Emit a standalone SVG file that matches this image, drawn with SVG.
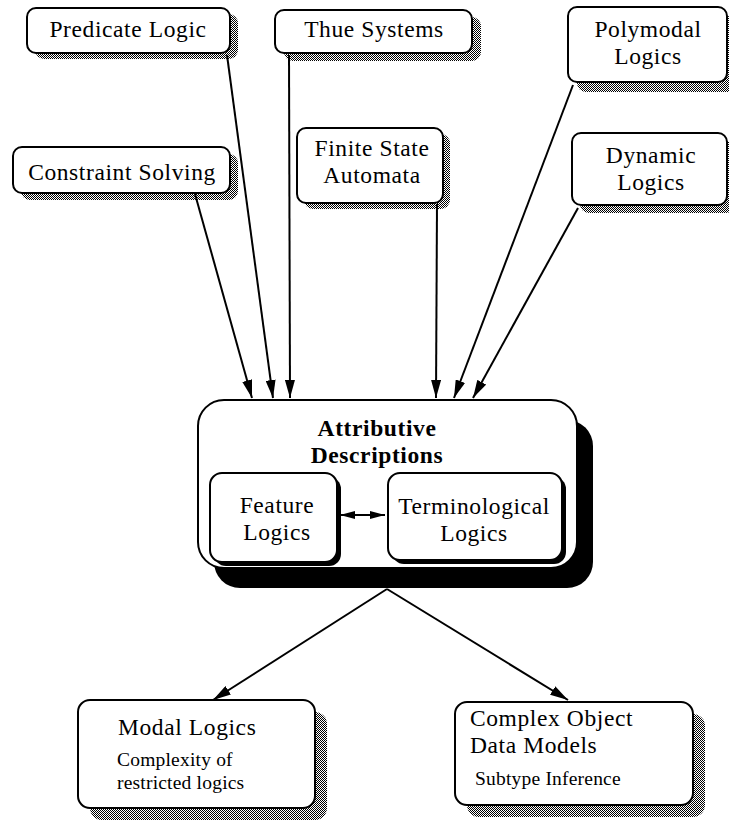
<svg xmlns="http://www.w3.org/2000/svg" width="729" height="822" viewBox="0 0 729 822">
<style>
.box{fill:#fff;stroke:#000;stroke-width:2}
.dsh{fill:url(#dither)}
.ssh{fill:#000}
.t{font-family:"Liberation Serif","Times New Roman",serif;font-size:23.5px;letter-spacing:0.6px;fill:#000;text-anchor:middle}
.b{font-weight:bold}
.s{font-family:"Liberation Serif","Times New Roman",serif;font-size:19.5px;letter-spacing:0.2px;fill:#000}
.l{text-anchor:start}
.c{fill:none;stroke:#000;stroke-width:2}
</style>
<defs>
<pattern id="dither" width="2" height="2" patternUnits="userSpaceOnUse">
<rect x="0" y="0" width="1" height="1" fill="#000"/>
<rect x="1" y="1" width="1" height="1" fill="#000"/>
</pattern>
<marker id="ah" viewBox="0 0 18 10" refX="18" refY="5" markerWidth="18" markerHeight="10" markerUnits="userSpaceOnUse" orient="auto">
<path d="M0,0 L18,5 L0,10 z" fill="#000"/>
</marker>
<marker id="ah2" viewBox="0 0 15 8" refX="15" refY="4" markerWidth="15" markerHeight="8" markerUnits="userSpaceOnUse" orient="auto-start-reverse">
<path d="M0,0 L15,4 L0,8 z" fill="#000"/>
</marker>
</defs>
<rect width="729" height="822" fill="#fff"/>

<g id="connectors">
<line class="c" x1="195" y1="194" x2="252" y2="398" marker-end="url(#ah)"/>
<line class="c" x1="227" y1="55" x2="273" y2="398" marker-end="url(#ah)"/>
<line class="c" x1="289" y1="55" x2="290" y2="398" marker-end="url(#ah)"/>
<line class="c" x1="437" y1="204" x2="436" y2="398" marker-end="url(#ah)"/>
<line class="c" x1="573" y1="85" x2="454" y2="398" marker-end="url(#ah)"/>
<line class="c" x1="578" y1="208" x2="473" y2="398" marker-end="url(#ah)"/>
<line class="c" x1="387" y1="589" x2="213" y2="700" marker-end="url(#ah)"/>
<line class="c" x1="387" y1="589" x2="568" y2="700" marker-end="url(#ah)"/>
</g>

<g id="predicate-logic">
<rect class="dsh" x="35" y="14" width="203" height="45" rx="9"/>
<rect class="box" x="27" y="8" width="203" height="45" rx="9"/>
<text class="t" x="128" y="37">Predicate Logic</text>
</g>

<g id="thue-systems">
<rect class="dsh" x="284" y="17" width="197" height="44" rx="9"/>
<rect class="box" x="275" y="10" width="197" height="43" rx="9"/>
<text class="t" x="374" y="37">Thue Systems</text>
</g>

<g id="constraint-solving">
<rect class="dsh" x="21" y="154" width="217" height="46" rx="9"/>
<rect class="box" x="13" y="147" width="217" height="46" rx="9"/>
<text class="t" x="122" y="180">Constraint Solving</text>
</g>

<g id="finite-state-automata">
<rect class="dsh" x="304" y="134" width="146" height="75" rx="9"/>
<rect class="box" x="297" y="128" width="146" height="75" rx="9"/>
<text class="t" x="372" y="156">Finite State</text>
<text class="t" x="372" y="183">Automata</text>
</g>

<g id="polymodal-logics">
<rect class="dsh" x="577" y="16" width="159" height="76" rx="9"/>
<rect class="box" x="568" y="7" width="159" height="75" rx="9"/>
<text class="t" x="648" y="37">Polymodal</text>
<text class="t" x="648" y="64">Logics</text>
</g>

<g id="dynamic-logics">
<rect class="dsh" x="580" y="141" width="155" height="72" rx="9"/>
<rect class="box" x="572" y="133" width="155" height="72" rx="9"/>
<text class="t" x="651" y="163">Dynamic</text>
<text class="t" x="651" y="190">Logics</text>
</g>

<g id="attributive-descriptions">
<rect class="ssh" x="214" y="420" width="379" height="168" rx="26"/>
<rect class="box" x="198" y="400" width="379" height="168" rx="26"/>
<text class="t b" x="377" y="436">Attributive</text>
<text class="t b" x="377" y="463">Descriptions</text>
<g id="feature-logics">
<rect class="ssh" x="214" y="477" width="127" height="89" rx="12"/>
<rect class="box" x="210" y="473" width="127" height="89" rx="12"/>
<text class="t" x="277" y="513">Feature</text>
<text class="t" x="277" y="540">Logics</text>
</g>
<g id="terminological-logics">
<rect class="ssh" x="392" y="477" width="174" height="87" rx="12"/>
<rect class="box" x="388" y="473" width="174" height="87" rx="12"/>
<text class="t" x="474" y="514">Terminological</text>
<text class="t" x="474" y="541">Logics</text>
</g>
<line class="c" x1="340" y1="515" x2="385" y2="515" marker-start="url(#ah2)" marker-end="url(#ah2)"/>
</g>

<g id="modal-logics">
<rect class="dsh" x="90" y="712" width="237" height="108" rx="12"/>
<rect class="box" x="78" y="700" width="237" height="108" rx="12"/>
<text class="t l" x="118" y="735">Modal Logics</text>
<text class="s" x="117" y="766">Complexity of</text>
<text class="s" x="117" y="789">restricted logics</text>
</g>

<g id="complex-object-data-models">
<rect class="dsh" x="467" y="714" width="238" height="103" rx="12"/>
<rect class="box" x="455" y="702" width="238" height="103" rx="12"/>
<text class="t l" x="470" y="726">Complex Object</text>
<text class="t l" x="470" y="753">Data Models</text>
<text class="s" x="475" y="785">Subtype Inference</text>
</g>
</svg>
